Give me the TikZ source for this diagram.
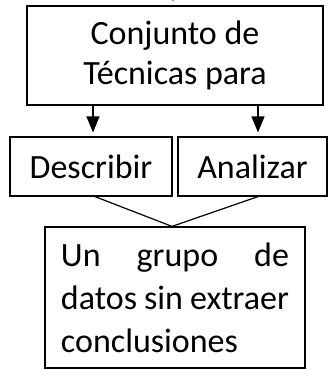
\documentclass[tikz,border=0pt]{standalone}
\usepackage{fontspec}
\setmainfont{Carlito}
\usetikzlibrary{arrows.meta}

\tikzset{
  caja/.style={draw, line width=0.6pt, inner sep=0pt, align=center,
    font=\fontsize{17}{20}\selectfont},
  flecha/.style={line width=0.6pt, -{Triangle[width=6.5pt,length=8pt]}, shorten >=2pt}
}

\begin{document}
\begin{tikzpicture}[x=0.5pt, y=-0.5pt]

\useasboundingbox (0,0) rectangle (335,370);

\node[caja, minimum width=148pt, minimum height=49.5pt] (tecnicas) at (175,55.5) {Conjunto de\\T\'ecnicas para};
\node[caja, minimum width=81pt, minimum height=29.5pt] (describir) at (91,166.5) {Describir};
\node[caja, minimum width=74.5pt, minimum height=29.5pt] (analizar) at (252.5,166.5) {Analizar};
\node[caja, minimum width=130pt, minimum height=70.5pt, text width=114pt, align=justify,
  font=\fontsize{17}{21.5}\selectfont] (datos) at (175,297.5)
  {\hyphenpenalty=10000\relax Un grupo de datos sin extraer conclusiones};

\coordinate (entrada) at (173,-20);

% flechas
\draw[flecha] (entrada) -- (tecnicas.north -| entrada);
\draw[flecha] (tecnicas.south -| 93,0) -- (describir.north -| 93,0);
\draw[flecha] (tecnicas.south -| 258,0) -- (analizar.north -| 258,0);

% union
\draw[line width=0.6pt] (describir.south -| 95,0) -- (datos.north -| 172,0) -- (analizar.south -| 258,0);

\end{tikzpicture}
\end{document}
